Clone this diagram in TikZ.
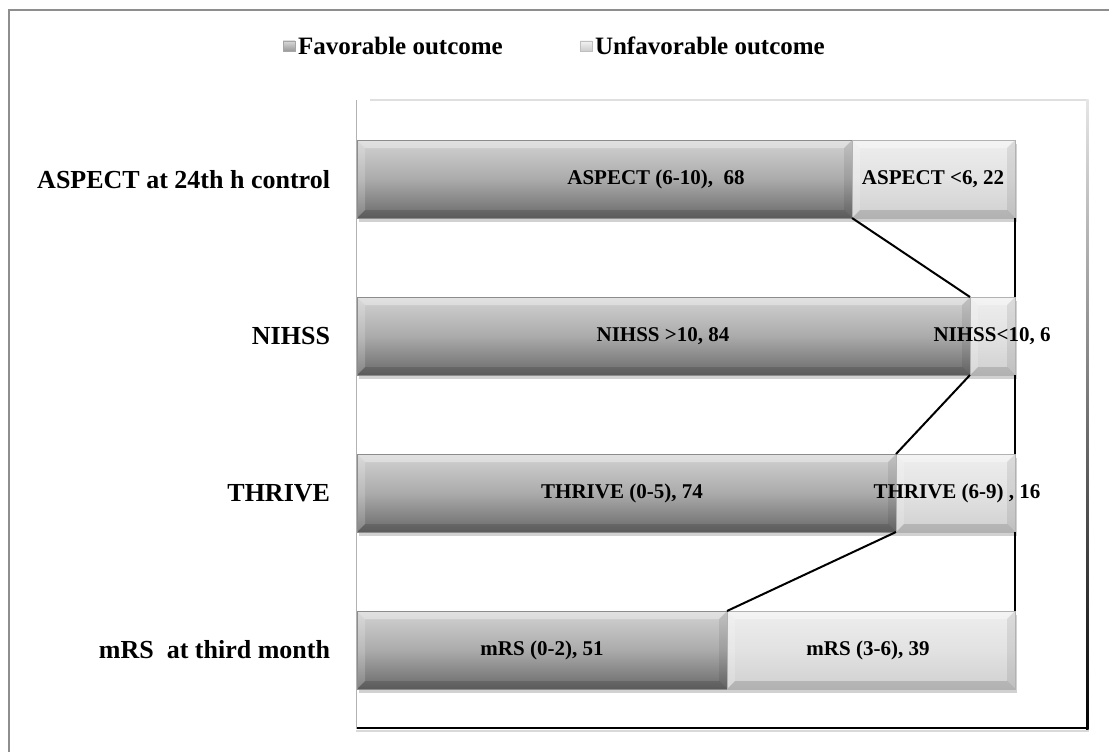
\documentclass[tikz,border=0pt]{standalone}
\usepackage{fontspec}
\setmainfont{Liberation Serif}
\usetikzlibrary{shadows,calc}
\definecolor{favtop}{HTML}{D2D2D2}
\definecolor{favmid}{HTML}{ABABAB}
\definecolor{favbot}{HTML}{6A6A6A}
\definecolor{uftop}{HTML}{EEEEEE}
\definecolor{ufmid}{HTML}{E2E2E2}
\definecolor{ufbot}{HTML}{D0D0D0}
\definecolor{outer}{HTML}{8E8E8E}
\begin{document}
\begin{tikzpicture}[x=1pt,y=-1pt,
  every node/.style={inner sep=0pt, outer sep=0pt},
  bevel/.style={path picture={
    \fill[white,opacity=0.35] (path picture bounding box.north west) -- (path picture bounding box.north east)
      -- ([xshift=-8pt,yshift=-8pt]path picture bounding box.north east) -- ([xshift=8pt,yshift=-8pt]path picture bounding box.north west) -- cycle;
    \fill[white,opacity=0.18] (path picture bounding box.north west) -- ([xshift=8pt,yshift=-8pt]path picture bounding box.north west)
      -- ([xshift=8pt,yshift=8pt]path picture bounding box.south west) -- (path picture bounding box.south west) -- cycle;
    \fill[black,opacity=0.14] (path picture bounding box.south west) -- ([xshift=8pt,yshift=8pt]path picture bounding box.south west)
      -- ([xshift=-8pt,yshift=8pt]path picture bounding box.south east) -- (path picture bounding box.south east) -- cycle;
    \fill[black,opacity=0.08] (path picture bounding box.north east) -- ([xshift=-8pt,yshift=-8pt]path picture bounding box.north east)
      -- ([xshift=-8pt,yshift=8pt]path picture bounding box.south east) -- (path picture bounding box.south east) -- cycle;
  }},
  barbase/.style={rectangle, minimum height=78pt, anchor=north west,
     drop shadow={shadow xshift=1.5pt, shadow yshift=-4pt, opacity=0.3, fill=black!60}},
  fav/.style={barbase, top color=favtop, bottom color=favbot, middle color=favmid, draw=black!45, line width=0.4pt, bevel},
  unfav/.style={barbase, top color=uftop, bottom color=ufbot, middle color=ufmid, draw=black!30, line width=0.4pt, bevel},
  barlab/.style={font=\fontsize{21}{21}\selectfont\bfseries},
  catlab/.style={font=\fontsize{26}{26}\selectfont\bfseries, anchor=east},
  leglab/.style={font=\fontsize{25}{25}\selectfont\bfseries, anchor=west},
  legbox/.style={rectangle, minimum width=12pt, minimum height=10pt, line width=0.4pt},
  serline/.style={black, line width=2pt}
]
\useasboundingbox (0,0) rectangle (1109,752);
% outer border
\draw[outer, line width=2.5pt] (1109,10) -- (9,10) -- (9,752);
% plot frame
\fill[gray!25] (370,99) rectangle (1087,101);
\shade[top color=gray!20, bottom color=black] (1086,100) rectangle (1088.5,729);
\draw[black, line width=2.2pt] (356,728) -- (1088.5,728);
\fill[gray!30] (356,730) rectangle (1089,732);
\draw[gray!60, line width=1pt] (356,100) -- (356,729);

% legend
\node[legbox, top color=gray!30, bottom color=gray!80, draw=gray!70] (lf) at (289,46) {};
\node[leglab] (lft) at (298,46) {Favorable outcome};
\node[legbox, top color=gray!10, bottom color=gray!40, draw=gray!50] (lu) at (586,46) {};
\node[leglab] (lut) at (595,46) {Unfavorable outcome};

% bars
\node[fav, minimum width=495pt] (a1) at (357,140) {};
\node[unfav, minimum width=163pt] (a2) at (852,140) {};
\node[fav, minimum width=613pt] (n1) at (357,297) {};
\node[unfav, minimum width=45pt] (n2) at (970,297) {};
\node[fav, minimum width=539pt] (t1) at (357,454) {};
\node[unfav, minimum width=119pt] (t2) at (896,454) {};
\node[fav, minimum width=370pt] (m1) at (357,611) {};
\node[unfav, minimum width=288pt] (m2) at (727,611) {};

% series lines
\draw[serline] (a1.south east) -- (n1.north east);
\draw[serline] (n1.south east) -- (t1.north east);
\draw[serline] (t1.south east) -- (m1.north east);
\draw[serline] (a2.south east) -- (n2.north east);
\draw[serline] (n2.south east) -- (t2.north east);
\draw[serline] (t2.south east) -- (m2.north east);

% bar labels
\node[barlab] (la1) at (656,179) {ASPECT (6-10),~~68};
\node[barlab] (la2) at (933,179) {ASPECT <6, 22};
\node[barlab] (ln1) at (663,336) {NIHSS >10, 84};
\node[barlab] (ln2) at (992,336) {NIHSS<10, 6};
\node[barlab] (lt1) at (622,493) {THRIVE (0-5), 74};
\node[barlab] (lt2) at (957,493) {THRIVE (6-9) , 16};
\node[barlab] (lm1) at (542,650) {mRS (0-2), 51};
\node[barlab] (lm2) at (868,650) {mRS (3-6), 39};

% category labels
\node[catlab] (ca) at (330,180) {ASPECT at 24th h control};
\node[catlab] (cn) at (330,336) {NIHSS};
\node[catlab] (ct) at (330,493) {THRIVE};
\node[catlab] (cm) at (330,650) {mRS~~at third month};
\end{tikzpicture}
\end{document}
